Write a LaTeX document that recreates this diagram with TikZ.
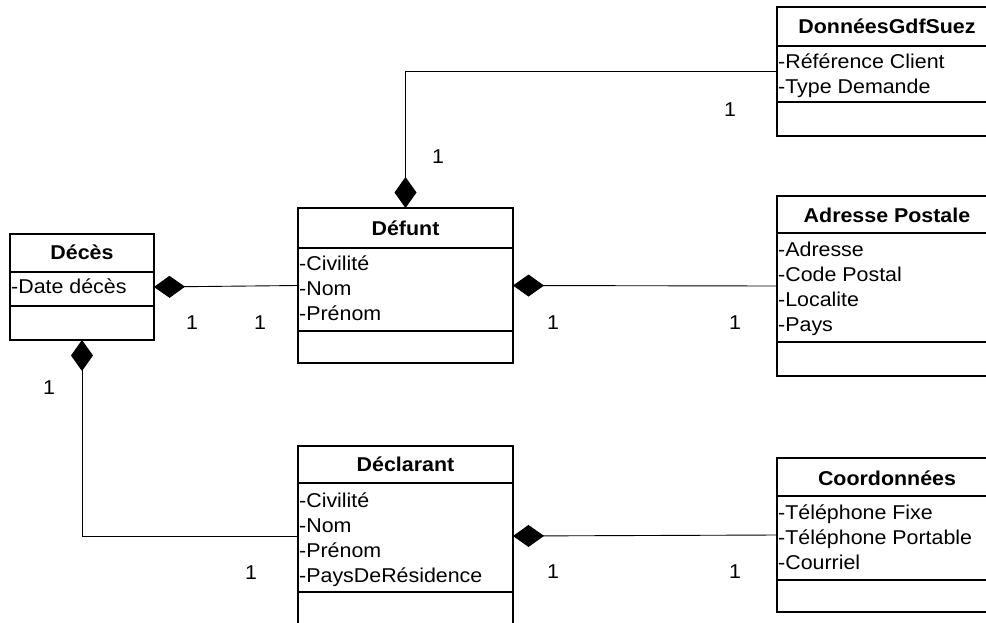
\documentclass[tikz,border=0pt]{standalone}
\usepackage{fontspec}
\setmainfont{Liberation Sans}[FakeStretch=1.07]
\usetikzlibrary{arrows.meta}
\usetikzlibrary{calc}
\usetikzlibrary{positioning}

\begin{document}
\begin{tikzpicture}[x=1pt,y=-1pt,
    classbox/.style={draw,line width=1.4pt,anchor=north west,inner sep=0pt,outer sep=0pt},
    sep/.style={line width=1.4pt},
    classname/.style={font=\fontsize{20}{24}\selectfont\bfseries,anchor=base,inner sep=0pt},
    attr/.style={font=\fontsize{20}{24}\selectfont,anchor=base west,inner sep=0pt},
    mult/.style={font=\fontsize{20}{24}\selectfont,inner sep=0pt},
    compo/.style={{Diamond[length=31pt,width=22pt]}-},
    vh/.style={to path={|- (\tikztotarget)}}]
    \clip (0,0) rectangle (986,622);

    \begin{scope}[every node/.style={classbox}]
      \node[minimum width=144pt,minimum height=106pt] (deces) at (10,234) {};
      \node[minimum width=215pt,minimum height=155pt] (defunt) at (298,208) {};
      \node[minimum width=220pt,minimum height=129pt] (donnees) at (777,7) {};
      \node[minimum width=220pt,minimum height=180pt] (adresse) at (777,196) {};
      \node[minimum width=215pt,minimum height=180pt] (declarant) at (298,446) {};
      \node[minimum width=220pt,minimum height=154pt] (coord) at (777,458) {};
    \end{scope}

    \draw[sep] ([yshift=-38pt]deces.north west) -- ([yshift=-38pt]deces.north east);
    \draw[sep] ([yshift=-72pt]deces.north west) -- ([yshift=-72pt]deces.north east);
    \draw[sep] ([yshift=-40pt]defunt.north west) -- ([yshift=-40pt]defunt.north east);
    \draw[sep] ([yshift=-123pt]defunt.north west) -- ([yshift=-123pt]defunt.north east);
    \draw[sep] ([yshift=-39pt]donnees.north west) -- ([yshift=-39pt]donnees.north east);
    \draw[sep] ([yshift=-95pt]donnees.north west) -- ([yshift=-95pt]donnees.north east);
    \draw[sep] ([yshift=-37pt]adresse.north west) -- ([yshift=-37pt]adresse.north east);
    \draw[sep] ([yshift=-146pt]adresse.north west) -- ([yshift=-146pt]adresse.north east);
    \draw[sep] ([yshift=-37pt]declarant.north west) -- ([yshift=-37pt]declarant.north east);
    \draw[sep] ([yshift=-146pt]declarant.north west) -- ([yshift=-146pt]declarant.north east);
    \draw[sep] ([yshift=-38pt]coord.north west) -- ([yshift=-38pt]coord.north east);
    \draw[sep] ([yshift=-122pt]coord.north west) -- ([yshift=-122pt]coord.north east);

    \node[classname] (deces-t) at ($(deces.north)+(0,25)$) {Décès};
    \node[classname] (defunt-t) at ($(defunt.north)+(0,27)$) {Défunt};
    \node[classname] (donnees-t) at ($(donnees.north)+(0,26)$) {DonnéesGdfSuez};
    \node[classname] (adresse-t) at ($(adresse.north)+(0,26)$) {Adresse Postale};
    \node[classname] (declarant-t) at ($(declarant.north)+(0,25)$) {Déclarant};
    \node[classname] (coord-t) at ($(coord.north)+(0,27)$) {Coordonnées};

    \node[attr] (deces-a0) at ($(deces.north west)+(1,59)$) {-Date décès};
    \foreach \t [count=\i from 0] in {-Civilité,-Nom,-Prénom}
      \node[attr] (defunt-a\i) at ($(defunt.north west)+(1,62+25.3*\i)$) {\t};
    \foreach \t [count=\i from 0] in {-Référence Client,-Type Demande}
      \node[attr] (donnees-a\i) at ($(donnees.north west)+(1,61+25.3*\i)$) {\t};
    \foreach \t [count=\i from 0] in {-Adresse,-Code Postal,-Localite,-Pays}
      \node[attr] (adresse-a\i) at ($(adresse.north west)+(1,60+25.3*\i)$) {\t};
    \foreach \t [count=\i from 0] in {-Civilité,-Nom,-Prénom,-PaysDeRésidence}
      \node[attr] (declarant-a\i) at ($(declarant.north west)+(1,61+25.1*\i)$) {\t};
    \foreach \t [count=\i from 0] in {-Téléphone Fixe,-Téléphone Portable,-Courriel}
      \node[attr] (coord-a\i) at ($(coord.north west)+(1,61+25.3*\i)$) {\t};

    \begin{scope}[every edge/.style={draw,line width=0.9pt}]
      \path (deces.east) edge[compo] (defunt.west);
      \path (defunt.east) edge[compo] (adresse.west);
      \path (declarant.east) edge[compo] (coord.west);
      \path (defunt.north) edge[compo,vh] (donnees.west);
      \path (deces.south) edge[compo,vh] (declarant.west);
    \end{scope}

    \begin{scope}[every node/.style={mult}]
      \node (m1) at (730,110) {1};
      \node (m2) at (438,157) {1};
      \node (m3) at (192,323) {1};
      \node (m4) at (260,323) {1};
      \node (m5) at (553,323) {1};
      \node (m6) at (735,323) {1};
      \node (m7) at (49,388) {1};
      \node (m8) at (251,573) {1};
      \node (m9) at (553,572) {1};
      \node (m10) at (735,572) {1};
    \end{scope}
\end{tikzpicture}
\end{document}
